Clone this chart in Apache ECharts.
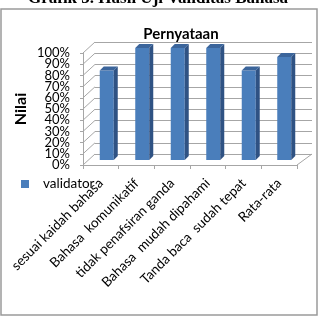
<!DOCTYPE html>
<html>
<head>
<meta charset="utf-8">
<script src="https://cdn.jsdelivr.net/npm/echarts@6/dist/echarts.min.js"></script>
<style>
  html, body { margin: 0; padding: 0; background: #fff; }
  #main { width: 320px; height: 318px; }
</style>
</head>
<body>
<div id="main"></div>
<script>
// data
const categories = ['sesuai kaidah bahasa', 'Bahasa  komunikatif', 'tidak penafsiran ganda',
  'Bahasa  mudah dipahami', 'Tanda baca  sudah tepat', 'Rata-rata'];
const validator = [0.8, 1.0, 1.0, 1.0, 0.8, 0.92];
const yTicks = [0, 0.1, 0.2, 0.3, 0.4, 0.5, 0.6, 0.7, 0.8, 0.9, 1.0];

const font = 'Lato, "Open Sans", sans-serif';
const gridColor = '#a6a6a6';
const front = '#4a7ebb';
const side = '#2f5283';
const top3d = '#3b659b';

let myChart = echarts.init(document.getElementById('main'));

// left wall diagonals + tick labels (labels tightly packed, so drawn here
// instead of axisLabel which would drop the overlapping ones)
function wallItem(params, api) {
  const v = api.value(1);
  const band = api.size([1, 0])[0];
  const p = api.coord([0, v]);
  const x0 = p[0] - band / 2;
  const children = [{
    type: 'line',
    shape: { x1: x0, y1: p[1], x2: x0 + 12, y2: p[1] - 11 },
    style: { stroke: gridColor, lineWidth: 1 }
  }, {
    type: 'text',
    x: x0 - 13, y: p[1],
    style: { text: Math.round(v * 100) + '%', font: '13px ' + font, fill: '#000',
      textAlign: 'right', textVerticalAlign: 'middle' }
  }];
  if (v === 0) {
    const q = api.coord([categories.length - 1, 0]);
    const x1 = q[0] + band / 2;
    children.push({
      type: 'line',
      shape: { x1: x1, y1: q[1], x2: x1 + 15, y2: q[1] - 11 },
      style: { stroke: gridColor, lineWidth: 1 }
    });
  }
  return { type: 'group', children: children };
}

// 3d-looking bar
function barItem(params, api) {
  const c = api.coord([api.value(0), api.value(1)]);
  const b = api.coord([api.value(0), 0]);
  const w = 14, d = 4;
  const l = c[0] - w / 2, r = c[0] + w / 2;
  return {
    type: 'group',
    children: [
      { type: 'rect', shape: { x: l, y: c[1], width: w, height: b[1] - c[1] },
        style: { fill: front } },
      { type: 'polygon', shape: { points: [[r, c[1]], [r + d, c[1] - d], [r + d, b[1] - d], [r, b[1]]] },
        style: { fill: side } },
      { type: 'polygon', shape: { points: [[l, c[1]], [l + d, c[1] - d], [r + d, c[1] - d], [r, c[1]]] },
        style: { fill: top3d } }
    ]
  };
}

myChart.setOption({
  animation: false,
  textStyle: { fontFamily: font },
  graphic: [
    { type: 'rect', shape: { x: 1, y: 9, width: 316, height: 306 },
      style: { fill: 'none', stroke: '#9a9a9a', lineWidth: 1.5 } },
    { type: 'text', x: 158, y: -10, style: { text: 'Grafik 5. Hasil Uji Validitas Bahasa',
      font: 'bold 17px "Liberation Serif", serif', fill: '#000', textAlign: 'center' } }
  ],
  title: {
    text: 'Pernyataan',
    left: 176, top: 22, textAlign: 'center',
    textStyle: { fontFamily: font, fontSize: 15, fontWeight: 'bold', color: '#000' }
  },
  legend: {
    left: 16, top: 172,
    icon: 'rect', itemWidth: 8, itemHeight: 8,
    textStyle: { fontFamily: font, fontSize: 13.5, color: '#000', padding: [0, 0, 0, 9] },
    data: ['validator']
  },
  grid: [
    { left: 95, right: 8, top: 42, bottom: 164 },   // back wall
    { left: 83, right: 23, top: 53, bottom: 153 },  // front
    { left: 89, right: 18, top: 48, bottom: 158 }   // bars
  ],
  xAxis: [
    { gridIndex: 0, type: 'category', data: categories, show: false },
    { gridIndex: 1, type: 'category', data: categories,
      axisLine: { lineStyle: { color: gridColor } },
      axisTick: { show: true, alignWithLabel: false, length: 4, lineStyle: { color: gridColor } },
      axisLabel: { rotate: 45, margin: 16, fontSize: 13.5, color: '#000', fontFamily: font, interval: 0 } },
    { gridIndex: 2, type: 'category', data: categories, show: false }
  ],
  yAxis: [
    { gridIndex: 0, type: 'value', min: 0, max: 1, interval: 0.1,
      axisLine: { show: false }, axisTick: { show: false }, axisLabel: { show: false },
      splitLine: { lineStyle: { color: gridColor } } },
    { gridIndex: 1, type: 'value', min: 0, max: 1, interval: 0.1,
      name: 'Nilai', nameLocation: 'middle', nameGap: 54, nameRotate: 90,
      nameTextStyle: { fontFamily: font, fontSize: 16, fontWeight: 'bold', color: '#000' },
      axisLine: { show: true, lineStyle: { color: gridColor } },
      axisTick: { show: true, length: 3, lineStyle: { color: gridColor } },
      axisLabel: { show: false },
      splitLine: { show: false } },
    { gridIndex: 2, type: 'value', min: 0, max: 1, show: false, splitLine: { show: false } }
  ],
  series: [
    { type: 'custom', xAxisIndex: 1, yAxisIndex: 1, silent: true,
      renderItem: wallItem, data: yTicks.map(v => [0, v]) },
    { name: 'validator', type: 'custom', xAxisIndex: 2, yAxisIndex: 2,
      itemStyle: { color: front },
      renderItem: barItem, data: validator.map((v, i) => [i, v]) }
  ]
});
</script>
</body>
</html>
